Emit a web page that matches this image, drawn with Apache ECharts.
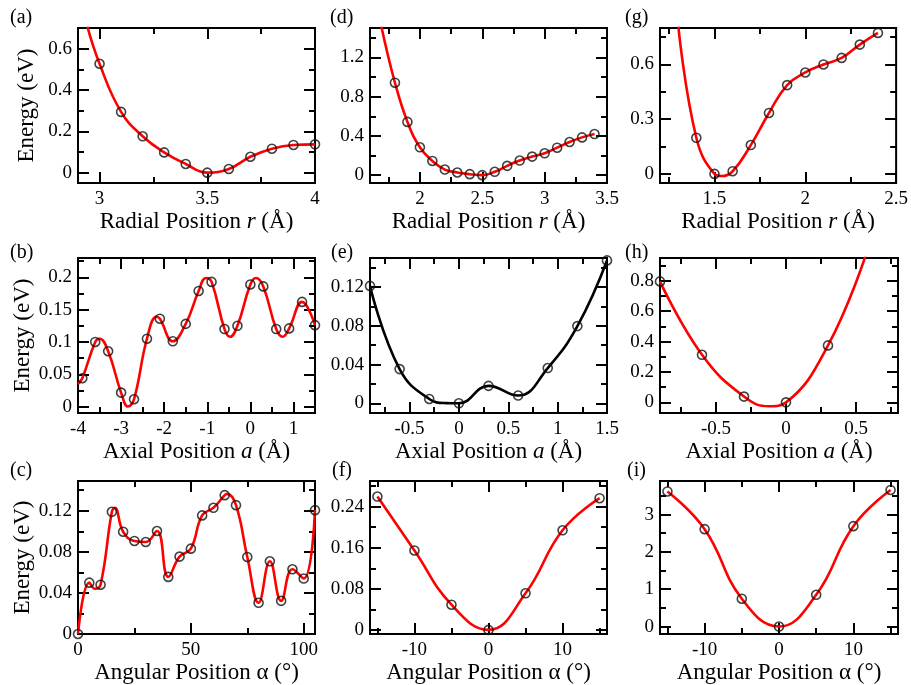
<!DOCTYPE html>
<html><head><meta charset="utf-8">
<script src="https://cdn.jsdelivr.net/npm/echarts@6/dist/echarts.min.js"></script>
<style>html,body{margin:0;padding:0;background:#fff}#c{width:911px;height:685px}</style>
</head><body><div id="c"></div>
<script>
// ---------- DATA ----------
// (a) radial
const aR = [3.0, 3.1, 3.2, 3.3, 3.4, 3.5, 3.6, 3.7, 3.8, 3.9, 4.0];
const aE = [0.527, 0.294, 0.176, 0.098, 0.042, 0.0, 0.018, 0.077, 0.116, 0.134, 0.137];
const aFitR = [2.94];
const aFitE = [0.72];
// (d) radial
const dR = [1.8, 1.9, 2.0, 2.1, 2.2, 2.3, 2.4, 2.5, 2.6, 2.7, 2.8, 2.9, 3.0, 3.1, 3.2, 3.3, 3.4];
const dE = [0.942, 0.543, 0.284, 0.145, 0.057, 0.027, 0.01, 0.0, 0.034, 0.095, 0.149, 0.189, 0.223, 0.28, 0.338, 0.385, 0.419];
const dFitR = [1.69];
const dFitE = [1.52];
// (g) radial
const gR = [1.4, 1.5, 1.6, 1.7, 1.8, 1.9, 2.0, 2.1, 2.2, 2.3, 2.4];
const gE = [0.198, 0.0, 0.0145, 0.158, 0.334, 0.487, 0.556, 0.6, 0.636, 0.709, 0.773];
const gFitR = [1.3, 1.54];
const gFitE = [0.82, -0.012];
// (b) axial
const bA = [-3.9, -3.6, -3.3, -3.0, -2.7, -2.4, -2.1, -1.8, -1.5, -1.2, -0.9, -0.6, -0.3, 0.0, 0.3, 0.6, 0.9, 1.2, 1.5];
const bE = [0.0438, 0.1, 0.0856, 0.0216, 0.0113, 0.105, 0.136, 0.101, 0.128, 0.179, 0.193, 0.12, 0.125, 0.189, 0.186, 0.12, 0.121, 0.162, 0.126];
const bFitA = [-4.0, -3.5, -2.84, -2.18, -1.03, -0.47, 0.13, 0.75];
const bFitE = [0.035, 0.105, 0.0, 0.139, 0.199, 0.108, 0.199, 0.108];
// (e) axial
const eA = [-0.9, -0.6, -0.3, 0.0, 0.3, 0.6, 0.9, 1.2, 1.5];
const eE = [0.1212, 0.0353, 0.0045, 0.0, 0.018, 0.008, 0.0364, 0.0797, 0.1475];
const eFitA = [-0.13];
const eFitE = [0.0002];
// (h) axial
const hA = [-0.9, -0.6, -0.3, 0.0, 0.3];
const hE = [0.796, 0.313, 0.038, 0.0, 0.375];
const hFitA = [-0.12, 0.57];
const hFitE = [-0.026, 0.97];
// (c) angular
const cAng = [0, 5, 10, 15, 20, 25, 30, 35, 40, 45, 50, 55, 60, 65, 70, 75, 80, 85, 90, 95, 100, 105];
const cE = [0.0, 0.05, 0.048, 0.119, 0.0996, 0.0906, 0.0896, 0.1003, 0.0556, 0.0754, 0.0831, 0.1155, 0.1229, 0.1352, 0.1255, 0.075, 0.0304, 0.0708, 0.0323, 0.063, 0.054, 0.1206];
const cFitAng = [7.5, 16.3, 66];
const cFitE = [0.044, 0.123, 0.1365];
// (f) angular
const fAng = [-15, -10, -5, 0, 5, 10, 15];
const fE = [0.2597, 0.1547, 0.049, 0.0, 0.0713, 0.194, 0.2565];
// (i) angular
const iAng = [-15, -10, -5, 0, 5, 10, 15];
const iE = [3.62, 2.61, 0.745, 0.0, 0.85, 2.69, 3.66];

// ---------- TICKS ----------
const aXMajor = [3, 3.5, 4], aXMinor = [3.25, 3.75];
const aYMajor = [0, 0.2, 0.4, 0.6], aYMinor = [0.1, 0.3, 0.5];
const dXMajor = [2, 2.5, 3, 3.5], dXMinor = [1.75, 2.25, 2.75, 3.25];
const dYMajor = [0, 0.4, 0.8, 1.2], dYMinor = [0.2, 0.6, 1.0, 1.4];
const gXMajor = [1.5, 2, 2.5], gXMinor = [1.25, 1.75, 2.25];
const gYMajor = [0, 0.3, 0.6], gYMinor = [0.15, 0.45, 0.75];
const bXMajor = [-4, -3, -2, -1, 0, 1], bXMinor = [-3.5, -2.5, -1.5, -0.5, 0.5];
const bYMajor = [0, 0.05, 0.1, 0.15, 0.2], bYMinor = [0.025, 0.075, 0.125, 0.175, 0.225];
const eXMajor = [-0.5, 0, 0.5, 1, 1.5], eXMinor = [-0.75, -0.25, 0.25, 0.75, 1.25];
const eYMajor = [0, 0.04, 0.08, 0.12], eYMinor = [0.02, 0.06, 0.1, 0.14];
const hXMajor = [-0.5, 0, 0.5], hXMinor = [-0.75, -0.25, 0.25, 0.75];
const hYMajor = [0, 0.2, 0.4, 0.6, 0.8], hYMinor = [0.1, 0.3, 0.5, 0.7, 0.9];
const cXMajor = [0, 50, 100], cXMinor = [25, 75];
const cYMajor = [0, 0.04, 0.08, 0.12], cYMinor = [0.02, 0.06, 0.1, 0.14];
const fXMajor = [-10, 0, 10], fXMinor = [-15, -5, 5, 15];
const fYMajor = [0, 0.08, 0.16, 0.24], fYMinor = [0.04, 0.12, 0.2, 0.28];
const iXMajor = [-10, 0, 10], iXMinor = [-15, -5, 5, 15];
const iYMajor = [0, 1, 2, 3], iYMinor = [0.5, 1.5, 2.5, 3.5];

// ---------- LAYOUT ----------
const FONT = 'Liberation Serif';
const RED = '#ff0000';
const NAMES = {
  radial: '{n|Radial Position }{i|r}{n| (Å)}',
  axial: '{n|Axial Position }{i|a}{n| (Å)}',
  angular: '{n|Angular Position α (°)}'
};
const panels = [
  {lab:'(a)', L:78, T:28, W:237, H:155, x:aR, y:aE, fx:aFitR, fy:aFitE, xr:[2.9,4], yr:[-0.05,0.7], xM:aXMajor, xm:aXMinor, yM:aYMajor, ym:aYMinor, nm:'radial', yn:true, col:RED, lx:10, ly:8},
  {lab:'(d)', L:370, T:28, W:237, H:155, x:dR, y:dE, fx:dFitR, fy:dFitE, xr:[1.6,3.5], yr:[-0.08,1.5], xM:dXMajor, xm:dXMinor, yM:dYMajor, ym:dYMinor, nm:'radial', yn:false, col:RED, lx:330, ly:8},
  {lab:'(g)', L:660, T:28, W:238, H:155, x:gR, y:gE, fx:gFitR, fy:gFitE, xr:[1.2,2.5], yr:[-0.05,0.8], xM:gXMajor, xm:gXMinor, yM:gYMajor, ym:gYMinor, nm:'radial', yn:false, col:RED, lx:625, ly:8},
  {lab:'(b)', L:78, T:258, W:237, H:155, x:bA, y:bE, fx:bFitA, fy:bFitE, xr:[-4,1.5], yr:[-0.01,0.23], xM:bXMajor, xm:bXMinor, yM:bYMajor, ym:bYMinor, nm:'axial', yn:true, col:RED, lx:10, ly:243},
  {lab:'(e)', L:370, T:258, W:237, H:155, x:eA, y:eE, fx:eFitA, fy:eFitE, xr:[-0.9,1.5], yr:[-0.01,0.15], xM:eXMajor, xm:eXMinor, yM:eYMajor, ym:eYMinor, nm:'axial', yn:false, col:'#000', lx:331, ly:243},
  {lab:'(h)', L:660, T:258, W:238, H:155, x:hA, y:hE, fx:hFitA, fy:hFitE, xr:[-0.9,0.8], yr:[-0.07,0.95], xM:hXMajor, xm:hXMinor, yM:hYMajor, ym:hYMinor, nm:'axial', yn:false, col:RED, lx:625, ly:243},
  {lab:'(c)', L:78, T:481, W:237, H:155, x:cAng, y:cE, fx:cFitAng, fy:cFitE, xr:[0,105], yr:[0,0.149], xM:cXMajor, xm:cXMinor, yM:cYMajor, ym:cYMinor, nm:'angular', yn:true, col:RED, lx:10, ly:461},
  {lab:'(f)', L:370, T:481, W:237, H:155, x:fAng, y:fE, fx:[], fy:[], xr:[-16,16], yr:[-0.008,0.29], xM:fXMajor, xm:fXMinor, yM:fYMajor, ym:fYMinor, nm:'angular', yn:false, col:RED, lx:332, ly:461},
  {lab:'(i)', L:660, T:481, W:238, H:155, x:iAng, y:iE, fx:[], fy:[], xr:[-16,16], yr:[-0.2,3.9], xM:iXMajor, xm:iXMinor, yM:iYMajor, ym:iYMinor, nm:'angular', yn:false, col:RED, lx:627, ly:461}
];

const grids = [], xAxes = [], yAxes = [], series = [], graphics = [];
const MAJ = 11, MIN = 6, TW = 2;
function pairs(xs, ys){ return xs.map((v,i)=>[v, ys[i]]); }
const txt = (sz, extra) => Object.assign({fontFamily:FONT, fontSize:sz, color:'#000'}, extra || {});

panels.forEach((p, gi) => {
  grids.push({left:p.L, top:p.T, width:p.W, height:p.H, show:true, borderColor:'#000', borderWidth:2, backgroundColor:'transparent', containLabel:false});
  const xBase = xAxes.length, yBase = yAxes.length;
  const common = (r) => ({type:'value', gridIndex:gi, min:r[0], max:r[1], splitLine:{show:false}, axisLine:{show:false, onZero:false}});
  [['bottom', p.xM, MAJ, true], ['bottom', p.xm, MIN, false], ['top', p.xM, MAJ, false], ['top', p.xm, MIN, false]].forEach(([pos, vals, len, lbl]) => {
    const ax = Object.assign(common(p.xr), {
      position:pos,
      axisTick:{show:true, inside:true, length:len, lineStyle:{color:'#000', width:TW}, customValues:vals},
      axisLabel:Object.assign({show:lbl, customValues:vals, margin:7}, txt(19))
    });
    if (lbl) {
      ax.name = NAMES[p.nm]; ax.nameLocation = 'middle'; ax.nameGap = 27;
      ax.nameTextStyle = txt(23, {rich:{n:txt(23), i:txt(23, {fontStyle:'italic'})}});
    }
    xAxes.push(ax);
  });
  [['left', p.yM, MAJ, true], ['left', p.ym, MIN, false], ['right', p.yM, MAJ, false], ['right', p.ym, MIN, false]].forEach(([pos, vals, len, lbl]) => {
    const ax = Object.assign(common(p.yr), {
      position:pos,
      axisTick:{show:true, inside:true, length:len, lineStyle:{color:'#000', width:TW}, customValues:vals},
      axisLabel:Object.assign({show:lbl, customValues:vals, margin:6}, txt(19))
    });
    if (lbl && p.yn) {
      ax.name = 'Energy (eV)'; ax.nameLocation = 'middle'; ax.nameGap = 40; ax.nameRotate = 90;
      ax.nameTextStyle = txt(23);
    }
    yAxes.push(ax);
  });
  const curve = pairs(p.x, p.y).concat(pairs(p.fx, p.fy)).sort((u,v)=>u[0]-v[0]);
  series.push({type:'line', xAxisIndex:xBase, yAxisIndex:yBase, data:curve, smooth:0.45, showSymbol:false, symbol:'none', clip:true,
    lineStyle:{color:p.col, width:2.6}, z:2, animation:false});
  series.push({type:'scatter', xAxisIndex:xBase, yAxisIndex:yBase, data:pairs(p.x, p.y), symbol:'circle', symbolSize:9, clip:false,
    itemStyle:{color:'rgba(0,0,0,0)', borderColor:'#111', borderWidth:1.6}, z:3, animation:false});
  graphics.push({type:'text', left:p.lx, top:p.ly, style:{text:p.lab, fontFamily:FONT, fontSize:20, fill:'#000'}});
});

const chart = echarts.init(document.getElementById('c'), null, {renderer:'canvas'});
chart.setOption({
  animation:false,
  backgroundColor:'#fff',
  grid:grids, xAxis:xAxes, yAxis:yAxes, series:series, graphic:graphics
});
</script></body></html>
